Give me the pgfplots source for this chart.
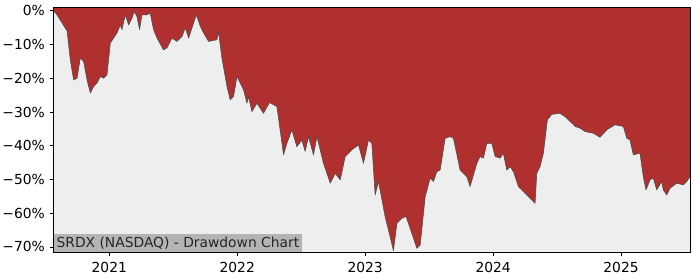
\documentclass[border=0pt]{standalone}
\usepackage{pgfplots}
\pgfplotsset{compat=1.18}
\usepackage{fontspec}
\setmainfont{DejaVu Sans}
\definecolor{ddred}{HTML}{B03030}
\definecolor{bggray}{HTML}{EEEEEE}
\definecolor{lblgray}{HTML}{B4B4B4}
\begin{document}
\begin{tikzpicture}
\useasboundingbox (0,0) rectangle (504bp,201.6bp);
\begin{axis}[
  at={(38.4bp,19.9bp)}, anchor=south west,
  scale only axis, width=458.4bp, height=176.4bp,
  xmin=2020.5625, xmax=2025.539,
  ymin=-71.6, ymax=1.0,
  axis background/.style={fill=bggray},
  xtick={2021,2022,2023,2024,2025},
  xticklabels={2021,2022,2023,2024,2025},
  ytick={0,-10,-20,-30,-40,-50,-60,-70},
  yticklabels={0\%,−10\%,−20\%,−30\%,−40\%,−50\%,−60\%,−70\%},
  tick align=outside, tick pos=left,
  major tick length=2.6bp,
  tick style={black, line width=0.6pt},
  axis line style={line width=0.6pt},
  ticklabel style={font=\fontsize{10}{12}\selectfont},
  xticklabel style={yshift=-1bp},
  clip=true, axis on top,
]
\addplot[fill=ddred, draw=gray!60!black, line width=0.4bp, line join=round] coordinates {
(2020.5625,3) (2020.5625,0) (2020.565,0) (2020.591,-1.2) (2020.670,-6) (2020.695,-14.5) (2020.721,-20.5) (2020.748,-20)
(2020.773,-14) (2020.799,-15) (2020.826,-20.5) (2020.852,-24.4) (2020.877,-22.5) (2020.904,-21.4)
(2020.930,-19.5) (2020.955,-20) (2020.982,-19) (2021.008,-9.6) (2021.034,-8.1) (2021.060,-6.6)
(2021.086,-4.2) (2021.099,-5.6) (2021.125,-1.2) (2021.151,-4.2) (2021.177,-2.2) (2021.195,-0.2)
(2021.216,-1.7) (2021.237,-5.6) (2021.255,-1.2) (2021.295,-1.2) (2021.320,-0.7) (2021.346,-5.6)
(2021.373,-8.1) (2021.424,-11.6) (2021.451,-11) (2021.490,-8.1) (2021.529,-9.1) (2021.568,-7.6)
(2021.594,-5.1) (2021.620,-8.1) (2021.646,-5.1) (2021.680,-1.2) (2021.711,-4.6) (2021.737,-6.6)
(2021.776,-9.1) (2021.841,-8.6) (2021.854,-6.3) (2021.880,-14) (2021.920,-22.5) (2021.945,-26.4)
(2021.971,-25.4) (2021.998,-19.5) (2022.049,-23.4) (2022.076,-27.4) (2022.088,-25.4) (2022.115,-29.9)
(2022.154,-27.4) (2022.205,-30.4) (2022.252,-27.2) (2022.310,-28.4) (2022.362,-42.7) (2022.388,-39.3)
(2022.427,-35.3) (2022.466,-40.3) (2022.505,-38.3) (2022.531,-41.7) (2022.557,-37.3) (2022.596,-42.7)
(2022.623,-37.3) (2022.674,-45.2) (2022.727,-51.1) (2022.766,-48.2) (2022.805,-50.1) (2022.844,-43.2)
(2022.896,-41.2) (2022.948,-39.8) (2022.987,-45.2) (2023.026,-38.3) (2023.052,-39.3) (2023.078,-54.6)
(2023.104,-50.6) (2023.156,-61) (2023.195,-67) (2023.221,-71.1) (2023.248,-63) (2023.287,-61.5)
(2023.320,-61) (2023.365,-66) (2023.404,-70.4) (2023.430,-69.4) (2023.469,-55.1) (2023.508,-49.6)
(2023.534,-50.6) (2023.560,-47.7) (2023.586,-47.2) (2023.625,-37.8) (2023.664,-37.3) (2023.690,-37.8)
(2023.742,-47.2) (2023.795,-49.2) (2023.820,-52.1) (2023.873,-45.2) (2023.898,-43.2) (2023.924,-43.7)
(2023.951,-39.3) (2023.990,-39.3) (2024.016,-43.2) (2024.055,-43.7) (2024.080,-42.2) (2024.107,-47.2)
(2024.133,-46.2) (2024.159,-47.7) (2024.198,-52.1) (2024.237,-53.6) (2024.276,-55.1) (2024.328,-57.1)
(2024.341,-48.2) (2024.367,-46.2) (2024.393,-42.2) (2024.424,-32.3) (2024.459,-30.7) (2024.523,-30.4)
(2024.563,-31.4) (2024.615,-33.3) (2024.641,-34.3) (2024.680,-34.8) (2024.719,-35.8) (2024.784,-36.3)
(2024.836,-37.5) (2024.888,-35.3) (2024.953,-33.8) (2025.018,-34.3) (2025.045,-37.8) (2025.070,-38.3)
(2025.096,-42.7) (2025.148,-42.2) (2025.174,-49.2) (2025.195,-53.1) (2025.227,-50.1) (2025.252,-49.6)
(2025.279,-53.1) (2025.318,-50.6) (2025.330,-53.1) (2025.357,-54.6) (2025.383,-52.6) (2025.435,-51.1)
(2025.487,-51.6) (2025.513,-50.6) (2025.539,-49.2) (2025.539,3)
} -- cycle;
\node[anchor=south west, fill=lblgray, inner xsep=2.2bp, inner ysep=2bp, font=\fontsize{10}{12}\selectfont, text=black!85]
  at (rel axis cs:0,0) {SRDX (NASDAQ) - Drawdown Chart};
\end{axis}
\end{tikzpicture}
\end{document}
